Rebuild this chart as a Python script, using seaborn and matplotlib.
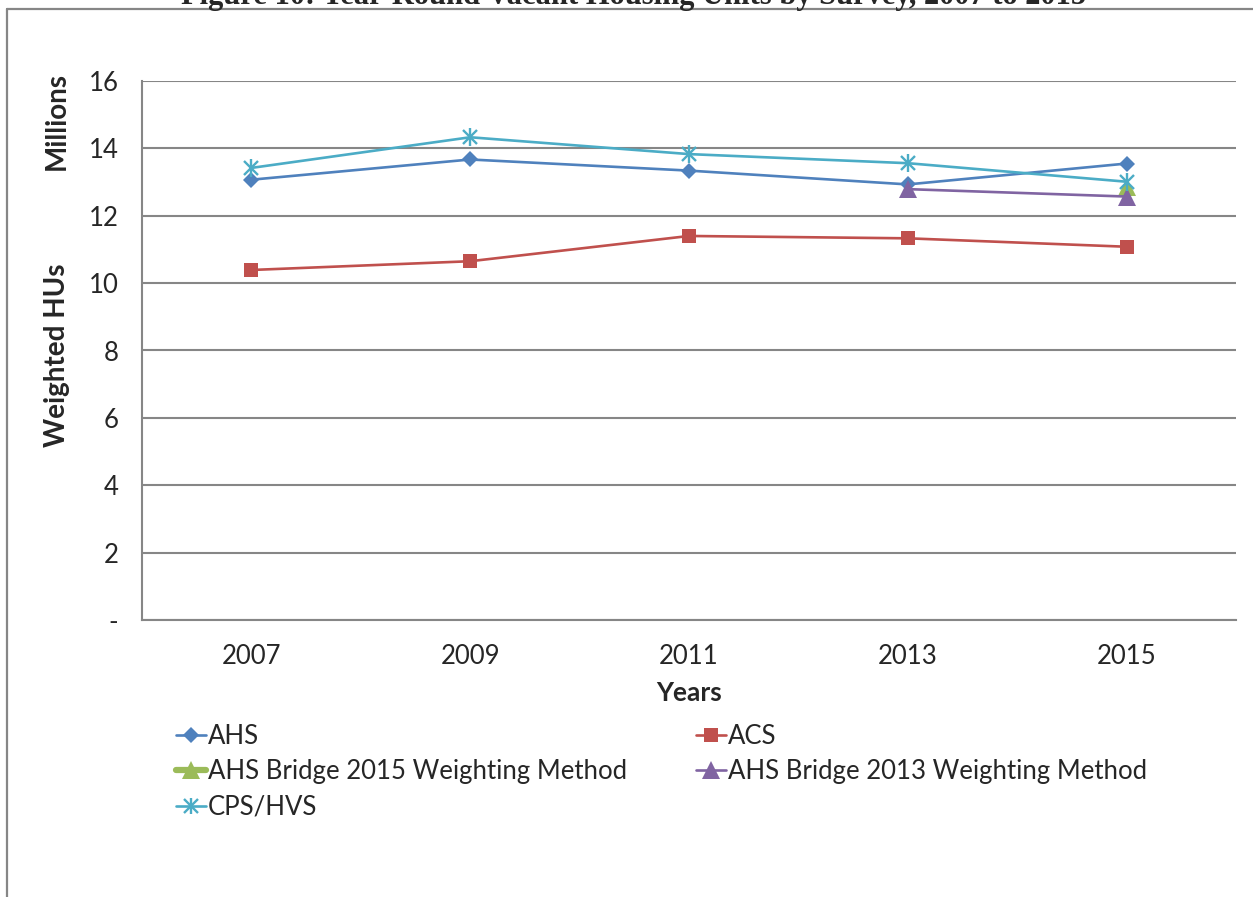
import matplotlib
matplotlib.use("Agg")
import matplotlib.pyplot as plt
import seaborn as sns
import numpy as np
from matplotlib.lines import Line2D

years = [2007, 2009, 2011, 2013, 2015]
ahs = [13.07, 13.67, 13.34, 12.93, 13.55]
acs = [10.39, 10.65, 11.40, 11.33, 11.08]
bridge2015 = [np.nan, np.nan, np.nan, np.nan, 12.85]
bridge2013 = [np.nan, np.nan, np.nan, 12.79, 12.57]
cps_hvs = [13.42, 14.33, 13.83, 13.56, 13.01]

series_names = ["AHS", "ACS", "AHS Bridge 2015 Weighting Method",
                "AHS Bridge 2013 Weighting Method", "CPS/HVS"]
y_ticks = [0, 2, 4, 6, 8, 10, 12, 14, 16]
y_tick_labels = ["-", "2", "4", "6", "8", "10", "12", "14", "16"]
title = "Figure 10: Year-Round Vacant Housing Units by Survey, 2007 to 2015"

sns.set_style("white")
plt.rcParams['font.family'] = ['Lato', 'DejaVu Sans']

W, H = 1253, 897
fig = plt.figure(figsize=(W / 100, H / 100), dpi=100)
ax = fig.add_axes([142 / W, 1 - 620 / H, (1236 - 142) / W, (620 - 81) / H])

grey = "#868686"
c_ahs, c_acs, c_g, c_p, c_cps = "#4F81BD", "#C0504D", "#9BBB59", "#8064A2", "#4BACC6"
lw = 1.9

sns.lineplot(x=years, y=ahs, ax=ax, color=c_ahs, lw=lw, marker="D", markersize=8,
             markeredgewidth=0, zorder=3)
sns.lineplot(x=years, y=acs, ax=ax, color=c_acs, lw=lw, marker="s", markersize=9.5,
             markeredgewidth=0, zorder=3)
sns.lineplot(x=years, y=bridge2015, ax=ax, color=c_g, lw=4.5, marker="^", markersize=13,
             markeredgewidth=0, zorder=4)
sns.lineplot(x=years, y=bridge2013, ax=ax, color=c_p, lw=lw, marker="^", markersize=13,
             markeredgewidth=0, zorder=5)
sns.lineplot(x=years, y=cps_hvs, ax=ax, color=c_cps, lw=lw, marker="x", markersize=10,
             markeredgewidth=1.7, markeredgecolor=c_cps, zorder=6)
sns.scatterplot(x=years, y=cps_hvs, ax=ax, color=c_cps, marker="|", s=150,
                linewidth=1.7, zorder=6)

ax.set_xlim(2006, 2016)
ax.set_ylim(0, 16)
ax.set_yticks(y_ticks)
ax.set_yticklabels(y_tick_labels, fontsize=18.5)
ax.set_xticks(years)
ax.set_xticklabels([str(y) for y in years], fontsize=18.5)
ax.set_xticks(np.arange(2006, 2017, 2), minor=True)
ax.tick_params(axis="x", which="major", length=0, pad=17)
ax.tick_params(axis="x", which="minor", length=7, width=1.5, color=grey, direction="out")
ax.tick_params(axis="y", length=9, width=1.5, color=grey, direction="out", pad=8)
ax.yaxis.grid(True, color=grey, lw=1.5)
ax.set_axisbelow(True)
for s in ["top", "right"]:
    ax.spines[s].set_visible(False)
for s in ["left", "bottom"]:
    ax.spines[s].set_color(grey)
    ax.spines[s].set_linewidth(1.5)

ax.set_xlabel("Years", fontsize=19, fontweight="bold", labelpad=9)
ax.set_ylabel("")
fig.text(57 / W, 1 - 355 / H, "Weighted HUs", rotation=90, fontsize=20,
         fontweight="bold", ha="center", va="center")
fig.text(57 / W, 1 - 121 / H, "Millions", rotation=90, fontsize=20,
         fontweight="bold", ha="center", va="center")

# title (cut off at top, as in the source)
fig.text(634 / W, 1 - 4 / H, title, fontsize=22, fontweight="bold",
         family="Liberation Serif", ha="center", va="baseline")

# outer chart-area border
fig.add_artist(Line2D([7 / W, 7 / W], [0, 1 - 9.5 / H], color=grey, lw=1.6,
                      transform=fig.transFigure))
fig.add_artist(Line2D([7 / W, 1], [1 - 9.5 / H, 1 - 9.5 / H], color=grey, lw=1.6,
                      transform=fig.transFigure))

# legends (row-major layout as in the source)
lines = ax.get_lines()
h_ahs, h_acs, h_g, h_p, h_cps = lines[0], lines[1], lines[2], lines[3], lines[4]
cps_handle = (h_cps, Line2D([], [], ls="none", marker="|", markersize=11,
                            markeredgewidth=1.7, color=c_cps))
common = dict(frameon=False, fontsize=18.5, handlelength=1.15, handletextpad=0.1,
              labelspacing=0.4, borderpad=0, borderaxespad=0)
leg1 = fig.legend([h_ahs, h_g, cps_handle], [series_names[0], series_names[2], series_names[4]],
                  loc="upper left", bbox_to_anchor=(176 / W, 1 - 724 / H), **common)
leg2 = fig.legend([h_acs, h_p], [series_names[1], series_names[3]],
                  loc="upper left", bbox_to_anchor=(696 / W, 1 - 724 / H), **common)

fig.savefig("out.png", dpi=100)
